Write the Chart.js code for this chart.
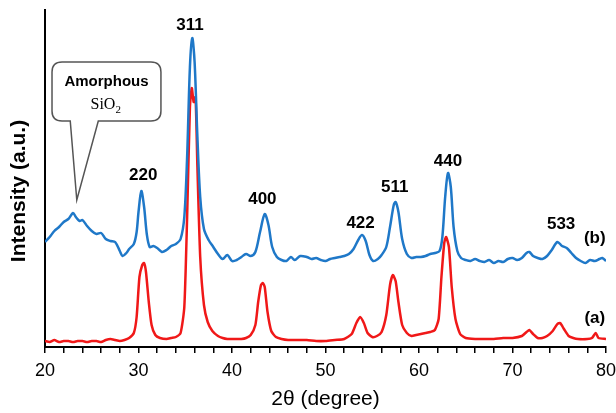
<!DOCTYPE html>
<html>
<head>
<meta charset="utf-8">
<script src="https://cdn.jsdelivr.net/npm/chart.js@4"></script>
<style>
  body { margin: 0; background: #fff; }
  #wrap { width: 616px; height: 413px; }
</style>
</head>
<body>
<div id="wrap"><canvas id="xrd"></canvas></div>
<script>
// 2theta values and intensities (a.u.)
var xB = [20,20.5,21,21.5,22,22.5,23,23.3,23.7,24,24.5,25,25.5,26,26.5,27,27.5,28,28.3,28.7,29,29.5,29.8,30,30.3,30.6,30.9,31.2,31.6,32,32.5,33,33.5,34,34.5,34.9,35.2,35.5,35.75,36,36.3,36.6,37,37.5,38,38.5,39,39.5,40,40.5,41,41.5,42,42.5,43,43.5,43.9,44.3,44.8,45.3,45.8,46.3,46.7,47.3,48,48.5,49,49.5,50,50.5,51,51.5,52,52.5,53,53.5,53.9,54.3,54.7,55.1,55.6,56,56.5,56.9,57.3,57.5,57.8,58.2,58.7,59.2,59.7,60.2,60.7,61.2,61.7,62.2,62.5,62.8,63.1,63.4,63.7,64.1,64.5,65,65.5,66,66.5,67,67.5,68,68.5,69,69.5,70,70.5,71,71.5,71.8,72.2,72.7,73.2,73.7,74.2,74.8,75.3,75.8,76.3,76.8,77.3,77.8,78.3,78.8,79.3,79.6,80];
var yB = [105,110,116,120,125,128,134,130,126,127,121,116,113,114,108,106,105,96,91,94,98,103,115,135,156,140,112,100,101,99,95,97,101,103,108,130,190,280,309,285,210,150,118,107,100,93,88,92,86,87,90,93,91,95,115,133,122,100,90,87,86,90,87,91,90,88,89,87,86,88,89,90,91,93,98,107,112,106,92,86,88,92,100,120,142,145,135,108,93,89,90,90,91,93,94,96,110,150,174,160,120,96,89,87,86,88,86,85,87,84,86,85,88,89,87,89,94,95,91,89,88,91,97,105,101,99,94,89,86,84,87,86,88,89,86];

var xA = [20,20.5,21,21.5,22,22.5,23,23.5,24,24.5,25,25.5,26,26.5,27,27.5,28,28.5,29,29.5,29.8,30.1,30.4,30.6,30.8,31.1,31.4,31.8,32.3,33,33.5,34,34.5,34.9,35.2,35.5,35.7,35.9,36.1,36.3,36.6,37,37.4,37.9,38.5,39,39.5,40,40.5,41,41.5,42,42.5,42.8,43.1,43.3,43.5,43.8,44.2,44.7,45.3,46,47,48,49,50,51,52,52.8,53.3,53.7,54.1,54.5,55,55.5,56,56.5,56.9,57.2,57.5,57.8,58.2,58.7,59.2,59.7,60.2,60.7,61.2,61.7,62.1,62.4,62.7,62.9,63.2,63.5,63.9,64.4,65,66,67,68,69,70,71,71.5,71.8,72.2,72.7,73.2,73.7,74.3,74.8,75.1,75.5,76,76.5,77,78,78.5,78.9,79.2,80];
var yA = [6,5,7,5,6,6,5,6,6,5,6,6,5,7,8,7,6,7,9,14,30,70,82,84,75,45,22,12,9,8,9,10,14,40,130,240,259,245,250,180,90,42,25,16,11,9,8,8,8,8,9,12,22,45,62,64,60,35,16,10,8,7,7,7,6,6,7,8,13,24,30,24,14,10,11,15,32,62,72,66,45,22,14,11,12,13,14,15,17,28,70,104,110,100,60,28,13,9,8,8,8,9,9,11,15,17,13,9,9,11,16,23,24,18,11,9,8,8,9,14,9,8];

var peakLabels = ["311", "220", "400", "422", "511", "440", "533", "(b)", "(a)"];
var peakX = [35.5, 30.5, 43.25, 53.75, 57.4, 63.1, 75.2, 78.8, 78.8];
var peakY = [322, 172, 148, 124, 160, 186, 123, 109, 29];

function pts(xs, ys) {
  return xs.map(function (x, i) { return { x: x, y: ys[i] }; });
}

var FONT = "'Liberation Sans', Arial, sans-serif";

var labelsPlugin = {
  id: "labels",
  afterDatasetsDraw: function (chart) {
    var ctx = chart.ctx, sx = chart.scales.x, sy = chart.scales.y;
    ctx.save();
    ctx.fillStyle = "#000";
    ctx.textAlign = "center";
    ctx.textBaseline = "middle";
    ctx.font = "bold 17px " + FONT;
    for (var i = 0; i < peakLabels.length; i++) {
      ctx.fillText(peakLabels[i], sx.getPixelForValue(peakX[i]), sy.getPixelForValue(peakY[i]));
    }

    // y axis title
    ctx.save();
    ctx.translate(19, 191);
    ctx.rotate(-Math.PI / 2);
    ctx.font = "bold 21px " + FONT;
    ctx.fillText("Intensity (a.u.)", 0, 0);
    ctx.restore();

    // callout box for the amorphous hump
    var l = sx.getPixelForValue(20.75), r = sx.getPixelForValue(32.4);
    var t = sy.getPixelForValue(285), b = sy.getPixelForValue(226);
    var tipX = sx.getPixelForValue(23.4), tipY = sy.getPixelForValue(147);
    var bl = sx.getPixelForValue(22.7), br = sx.getPixelForValue(25.7);
    var rad = 10;
    ctx.beginPath();
    ctx.moveTo(l + rad, t);
    ctx.lineTo(r - rad, t);
    ctx.quadraticCurveTo(r, t, r, t + rad);
    ctx.lineTo(r, b - rad);
    ctx.quadraticCurveTo(r, b, r - rad, b);
    ctx.lineTo(br, b);
    ctx.lineTo(tipX, tipY);
    ctx.lineTo(bl, b);
    ctx.lineTo(l + rad, b);
    ctx.quadraticCurveTo(l, b, l, b - rad);
    ctx.lineTo(l, t + rad);
    ctx.quadraticCurveTo(l, t, l + rad, t);
    ctx.closePath();
    ctx.fillStyle = "#fff";
    ctx.fill();
    ctx.strokeStyle = "#555";
    ctx.lineWidth = 1.5;
    ctx.stroke();

    var cx = (l + r) / 2;
    ctx.fillStyle = "#000";
    ctx.font = "bold 15px " + FONT;
    ctx.fillText("Amorphous", cx, t + 20);
    ctx.font = "16px 'Liberation Serif', 'Times New Roman', serif";
    ctx.textAlign = "left";
    var w = ctx.measureText("SiO").width;
    var sxp = cx - (w + 7) / 2;
    ctx.fillText("SiO", sxp, t + 43);
    ctx.font = "11px 'Liberation Serif', 'Times New Roman', serif";
    ctx.fillText("2", sxp + w, t + 48);
    ctx.restore();
  }
};

new Chart("xrd", {
  type: "line",
  data: {
    datasets: [{
      label: "(b)",
      data: pts(xB, yB),
      borderColor: "#1f78c8",
      borderWidth: 2.5,
      pointRadius: 0,
      tension: 0.3
    }, {
      label: "(a)",
      data: pts(xA, yA),
      borderColor: "#f01818",
      borderWidth: 2.5,
      pointRadius: 0,
      tension: 0.2
    }]
  },
  options: {
    animation: false,
    responsive: true,
    maintainAspectRatio: false,
    layout: { padding: { top: 10, right: 1, left: 0, bottom: 0 } },
    plugins: { legend: { display: false }, tooltip: { enabled: false } },
    scales: {
      x: {
        type: "linear",
        min: 20,
        max: 80,
        afterFit: function (s) { s.height = 66; s.paddingRight = 10; s.paddingLeft = 0; },
        ticks: {
          stepSize: 2,
          autoSkip: false,
          maxRotation: 0,
          padding: 7,
          color: "#000",
          font: { size: 18, family: FONT },
          callback: function (v) { return v % 10 === 0 ? v : ""; }
        },
        grid: { drawOnChartArea: false, drawTicks: true, tickLength: 6, color: "#000", lineWidth: 1.5 },
        border: { color: "#000", width: 2 },
        title: {
          display: true,
          text: "2θ (degree)",
          color: "#000",
          padding: { top: 0, bottom: 1 },
          font: { size: 21, family: FONT }
        }
      },
      y: {
        min: 0,
        max: 337,
        afterFit: function (s) { s.width = 45; },
        ticks: { display: false },
        grid: { display: false },
        border: { color: "#000", width: 2 }
      }
    }
  },
  plugins: [labelsPlugin]
});
</script>
</body>
</html>
